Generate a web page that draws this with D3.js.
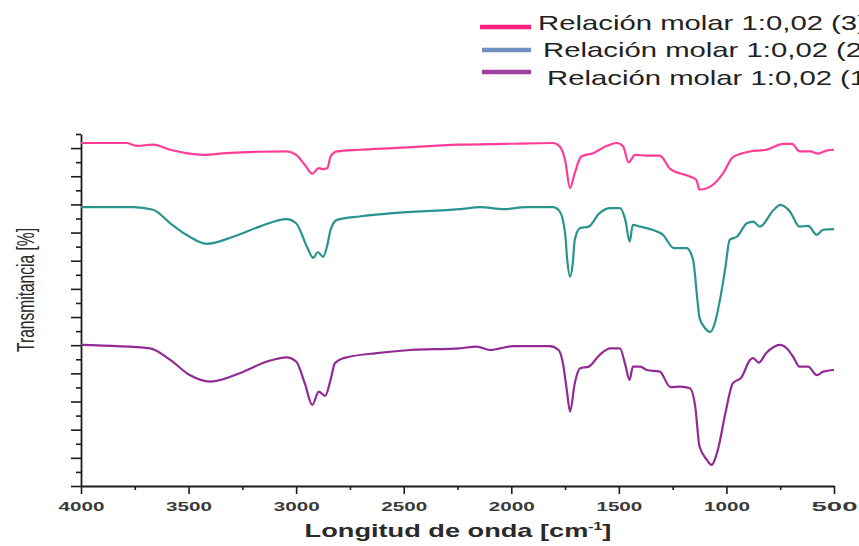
<!DOCTYPE html>
<html>
<head>
<meta charset="utf-8">
<script src="https://cdn.jsdelivr.net/npm/d3@7"></script>
<style>
  body { margin: 0; background: #fff; }
  svg { display: block; }
  text { font-family: "Liberation Sans", Arial, sans-serif; }
</style>
</head>
<body>
<svg id="chart" width="859" height="546"></svg>
<script>
// FTIR spectra: wavenumber (cm-1) and offset transmittance for each sample

// Sample (3)
const wn3 = [4000, 3790, 3740, 3665, 3585, 3510, 3430, 3325, 3170, 3045, 3000, 2960, 2925, 2895, 2875, 2855, 2840, 2810, 2705, 2550, 2240, 2035, 1805, 1775, 1750, 1727, 1705, 1675, 1620, 1555, 1510, 1480, 1455, 1425, 1370, 1310, 1260, 1170, 1140, 1125, 1075, 1015, 970, 890, 815, 735, 695, 660, 610, 575, 535, 500];
const tr3 = [121.8, 121.8, 120.8, 121.2, 119.4, 118.2, 117.6, 118.2, 118.7, 118.8, 117.6, 114.1, 110.9, 112.9, 112.5, 112.9, 117.0, 118.8, 119.4, 120.0, 121.2, 121.5, 121.8, 120.6, 115.8, 105.8, 111.1, 117.0, 118.2, 120.8, 121.8, 120.6, 114.9, 117.6, 117.3, 117.3, 112.5, 109.9, 108.7, 105.2, 106.3, 111.1, 116.8, 118.8, 119.4, 121.5, 121.5, 118.8, 118.8, 118.0, 119.1, 119.4];

// Sample (2)
const wn2 = [4000, 3755, 3665, 3585, 3510, 3415, 3290, 3170, 3045, 3000, 2950, 2920, 2900, 2875, 2855, 2840, 2810, 2705, 2550, 2240, 2145, 2035, 1930, 1805, 1775, 1750, 1740, 1727, 1715, 1705, 1680, 1640, 1590, 1540, 1495, 1470, 1450, 1435, 1400, 1345, 1295, 1245, 1185, 1155, 1135, 1125, 1100, 1075, 1055, 1030, 1005, 985, 950, 905, 875, 845, 780, 750, 705, 660, 620, 580, 550, 500];
const tr2 = [99.0, 99.0, 98.1, 93.3, 89.2, 86.0, 88.6, 92.1, 94.8, 93.3, 85.0, 81.0, 83.1, 81.4, 85.6, 91.0, 94.5, 95.7, 96.9, 98.3, 99.0, 98.3, 99.0, 99.0, 97.5, 89.8, 80.3, 74.3, 78.5, 87.4, 91.6, 92.1, 96.9, 98.7, 98.7, 94.5, 86.8, 92.7, 92.1, 91.0, 89.2, 84.5, 84.5, 80.3, 66.1, 59.7, 56.1, 54.7, 57.6, 66.1, 77.5, 87.4, 88.6, 93.3, 93.9, 92.1, 98.1, 99.8, 97.5, 92.1, 92.4, 89.2, 91.0, 91.2];

// Sample (1)
const wn1 = [4000, 3680, 3585, 3495, 3400, 3245, 3135, 3045, 3000, 2960, 2925, 2895, 2865, 2840, 2820, 2780, 2625, 2470, 2240, 2160, 2100, 1990, 1820, 1780, 1760, 1742, 1727, 1705, 1680, 1640, 1590, 1540, 1495, 1470, 1450, 1435, 1400, 1370, 1310, 1260, 1215, 1170, 1145, 1125, 1090, 1070, 1040, 1005, 970, 930, 890, 875, 850, 815, 750, 720, 690, 660, 620, 580, 550, 500];
const tr1 = [50.1, 48.9, 44.8, 39.4, 37.1, 40.6, 44.2, 45.7, 44.2, 36.5, 28.8, 33.5, 32.0, 37.7, 43.6, 45.4, 47.2, 48.3, 48.9, 49.5, 48.3, 49.7, 49.7, 48.3, 43.6, 34.1, 26.4, 36.5, 41.8, 42.4, 46.5, 48.9, 48.9, 43.0, 37.7, 42.4, 42.4, 41.2, 40.6, 35.1, 35.3, 34.7, 28.2, 14.0, 9.2, 7.5, 12.8, 25.8, 36.5, 38.6, 44.8, 45.4, 43.8, 47.2, 50.1, 48.9, 45.9, 42.4, 42.4, 39.4, 40.6, 41.2];

const seriesNames = ["Relación molar 1:0,02 (3)", "Relación molar 1:0,02 (2)", "Relación molar 1:0,02 (1)"];
const lineColors = ["#ff3d98", "#2a938e", "#922a93"];
const legendColors = ["#ff1f80", "#7090c0", "#a040a0"];

const xMajorTicks = [4000, 3500, 3000, 2500, 2000, 1500, 1000, 500];
const xMinorTicks = [3750, 3250, 2750, 2250, 1750, 1250, 750];
const yMajorTicks = d3.range(0, 121, 10);
const yMinorTicks = d3.range(5, 126, 10);

const svg = d3.select("#chart");

const x = d3.scaleLinear().domain([4000, 500]).range([81, 834]);
const y = d3.scaleLinear().domain([0, 125]).range([486, 134]);

const axisColor = "#1c1c1c";

// Stretch factor that makes a text element span the given width
function fitWidth(sel, width) {
  const w = sel.node().getBBox().width;
  return width / w;
}

// X axis: minor ticks, then major ticks with labels
const gxMinor = svg.append("g").attr("transform", `translate(0,${y(0)})`)
  .call(d3.axisBottom(x).tickValues(xMinorTicks).tickSize(4).tickFormat(""));
const gx = svg.append("g").attr("transform", `translate(0,${y(0)})`)
  .call(d3.axisBottom(x).tickValues(xMajorTicks).tickSize(8).tickSizeOuter(0).tickFormat(d3.format("d")));

// Y axis (no labels)
const gyMinor = svg.append("g").attr("transform", `translate(${x(4000)},0)`)
  .call(d3.axisLeft(y).tickValues(yMinorTicks).tickSize(5).tickFormat(""));
const gy = svg.append("g").attr("transform", `translate(${x(4000)},0)`)
  .call(d3.axisLeft(y).tickValues(yMajorTicks).tickSize(10).tickSizeOuter(0).tickFormat(""));

[gxMinor, gx, gyMinor, gy].forEach(g => {
  g.selectAll("path.domain").attr("stroke", axisColor).attr("stroke-width", 1.8);
  g.selectAll(".tick line").attr("stroke", axisColor).attr("stroke-width", 1.6);
});
gxMinor.select("path.domain").remove();
gyMinor.select("path.domain").remove();

gx.selectAll(".tick text")
  .attr("y", 25).attr("dy", 0)
  .attr("fill", "#3a3a3a")
  .style("font-size", "13.5px")
  .style("font-weight", "bold")
  .each(function () {
    const t = d3.select(this);
    const k = fitWidth(t, 46);
    t.attr("transform", `scale(${k},1)`);
  });

// X axis title
const xt = svg.append("g");
const xTitle = xt.append("text")
  .attr("text-anchor", "middle")
  .attr("fill", "#2a2a2a")
  .style("font-size", "19px")
  .style("font-weight", "bold");
xTitle.append("tspan").text("Longitud de onda [cm");
xTitle.append("tspan").attr("dy", -7).style("font-size", "11px").text("-1");
xTitle.append("tspan").attr("dy", 7).text("]");
const kx = fitWidth(xTitle, 307);
xt.attr("transform", `translate(458,537) scale(${kx},1)`);

// Y axis title
const yt = svg.append("g").attr("transform", "translate(26,290) scale(1.5,1) rotate(-90)");
const yTitle = yt.append("text")
  .attr("text-anchor", "middle")
  .attr("dy", "0.35em")
  .attr("fill", "#2a2a2a")
  .style("font-size", "15.5px")
  .text("Transmitancia [%]");
const ky = fitWidth(yTitle, 124);
yTitle.attr("transform", `scale(${ky},1)`);

// Spectra
const line = d3.line()
  .x(d => x(d[0]))
  .y(d => y(d[1]))
  .curve(d3.curveMonotoneX);

const series = [
  d3.zip(wn3, tr3),
  d3.zip(wn2, tr2),
  d3.zip(wn1, tr1)
];

svg.append("g").selectAll("path")
  .data(series)
  .join("path")
  .attr("d", line)
  .attr("fill", "none")
  .attr("stroke", (d, i) => lineColors[i])
  .attr("stroke-width", 2.2)
  .attr("stroke-linejoin", "round");

// Legend
const legendRows = [
  { lx: 480, ly: 27, tx: 538, ty: 30 },
  { lx: 482, ly: 50, tx: 543, ty: 57 },
  { lx: 482, ly: 72, tx: 547, ty: 85 }
];
const legend = svg.append("g");
seriesNames.forEach((name, i) => {
  const r = legendRows[i];
  legend.append("line")
    .attr("x1", r.lx).attr("x2", 531)
    .attr("y1", r.ly).attr("y2", r.ly)
    .attr("stroke", legendColors[i])
    .attr("stroke-width", 4.5);
  const g = legend.append("g");
  const t = g.append("text")
    .attr("fill", "#222")
    .style("font-size", "21px")
    .text(name);
  const k = fitWidth(t, 329);
  g.attr("transform", `translate(${r.tx},${r.ty}) scale(${k},1)`);
});
</script>
</body>
</html>
